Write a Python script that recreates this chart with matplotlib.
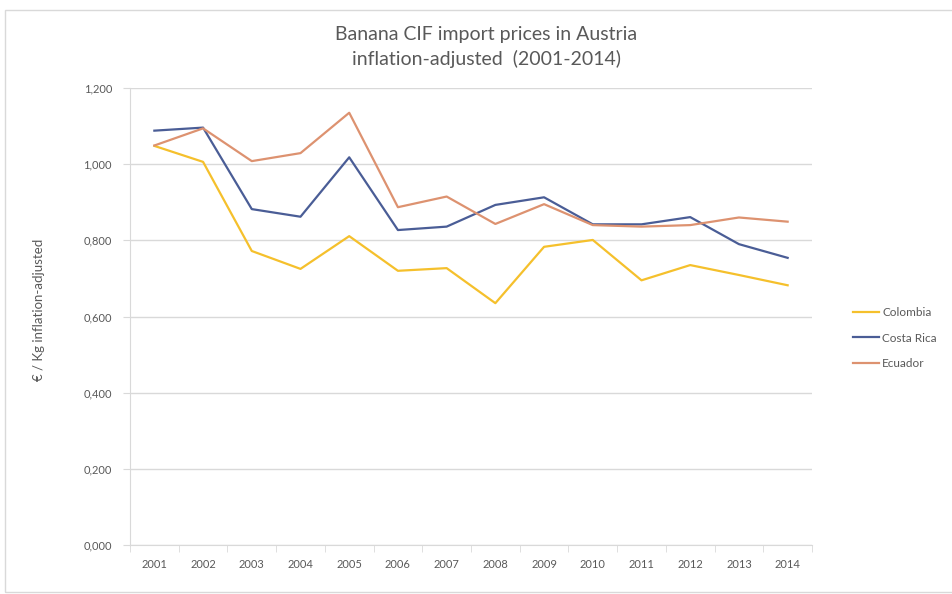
import matplotlib.pyplot as plt
from matplotlib.patches import Rectangle
from matplotlib.ticker import FuncFormatter, FixedLocator
import numpy as np

# values (EUR / kg, inflation-adjusted)
years = ['2001', '2002', '2003', '2004', '2005', '2006', '2007',
         '2008', '2009', '2010', '2011', '2012', '2013', '2014']
colombia = [1.048, 1.006, 0.772, 0.725, 0.811, 0.720, 0.727,
            0.635, 0.783, 0.801, 0.695, 0.735, 0.709, 0.682]
costa_rica = [1.088, 1.096, 0.882, 0.862, 1.018, 0.827, 0.836,
              0.893, 0.913, 0.842, 0.842, 0.861, 0.790, 0.754]
ecuador = [1.049, 1.094, 1.008, 1.029, 1.135, 0.887, 0.915,
           0.843, 0.895, 0.840, 0.836, 0.840, 0.860, 0.849]

plt.rcParams['font.family'] = ['Lato', 'DejaVu Sans']
txt = '#595959'
grid = '#D9D9D9'

fig = plt.figure(figsize=(9.53, 5.94), dpi=100)
# chart border
fig.patches.append(Rectangle((5 / 953, 2 / 594), 1.0, 582 / 594, transform=fig.transFigure,
                             fill=False, edgecolor='#D9D9D9', linewidth=1))

ax = fig.add_axes([130 / 953, 49 / 594, 682 / 953, 457 / 594])
x = np.arange(len(years))
ax.plot(x, colombia, color='#F5C02C', lw=1.6, label='Colombia')
ax.plot(x, costa_rica, color='#4A5D96', lw=1.6, label='Costa Rica')
ax.plot(x, ecuador, color='#DD9270', lw=1.6, label='Ecuador')

ax.set_xlim(-0.5, len(years) - 0.5)
ax.set_ylim(0, 1.2)
ax.set_yticks(np.arange(0, 1.21, 0.2))
ax.yaxis.set_major_formatter(FuncFormatter(lambda v, p: f'{v:.3f}'.replace('.', ',')))
ax.grid(axis='y', color=grid, lw=1)
ax.set_axisbelow(True)

ax.set_xticks(x)
ax.set_xticklabels(years)
ax.xaxis.set_minor_locator(FixedLocator(np.arange(-0.5, len(years), 1)))
ax.tick_params(axis='x', which='major', length=0, pad=10, labelsize=8, labelcolor=txt)
ax.tick_params(axis='x', which='minor', length=5, color=grid)
ax.tick_params(axis='y', length=5, color=grid, labelsize=8, labelcolor=txt, pad=8)

for s in ['top', 'right']:
    ax.spines[s].set_visible(False)
ax.spines['left'].set_color(grid)
ax.spines['bottom'].set_color(grid)

ax.set_ylabel('€ / Kg inflation-adjusted', fontsize=9.5, color=txt)
ax.yaxis.set_label_coords(-0.125, 0.515)
fig.text(486 / 953, 1 - 47 / 594, 'Banana CIF import prices in Austria\ninflation-adjusted  (2001-2014)',
         ha='center', va='center', fontsize=14, color=txt, linespacing=1.5)

fig.legend(loc='center left', bbox_to_anchor=(842 / 953, 1 - 338 / 594), frameon=False,
           fontsize=8.5, labelcolor=txt, handlelength=2.2, handletextpad=0.3, labelspacing=1.2)

fig.savefig('out.png', dpi=100)
